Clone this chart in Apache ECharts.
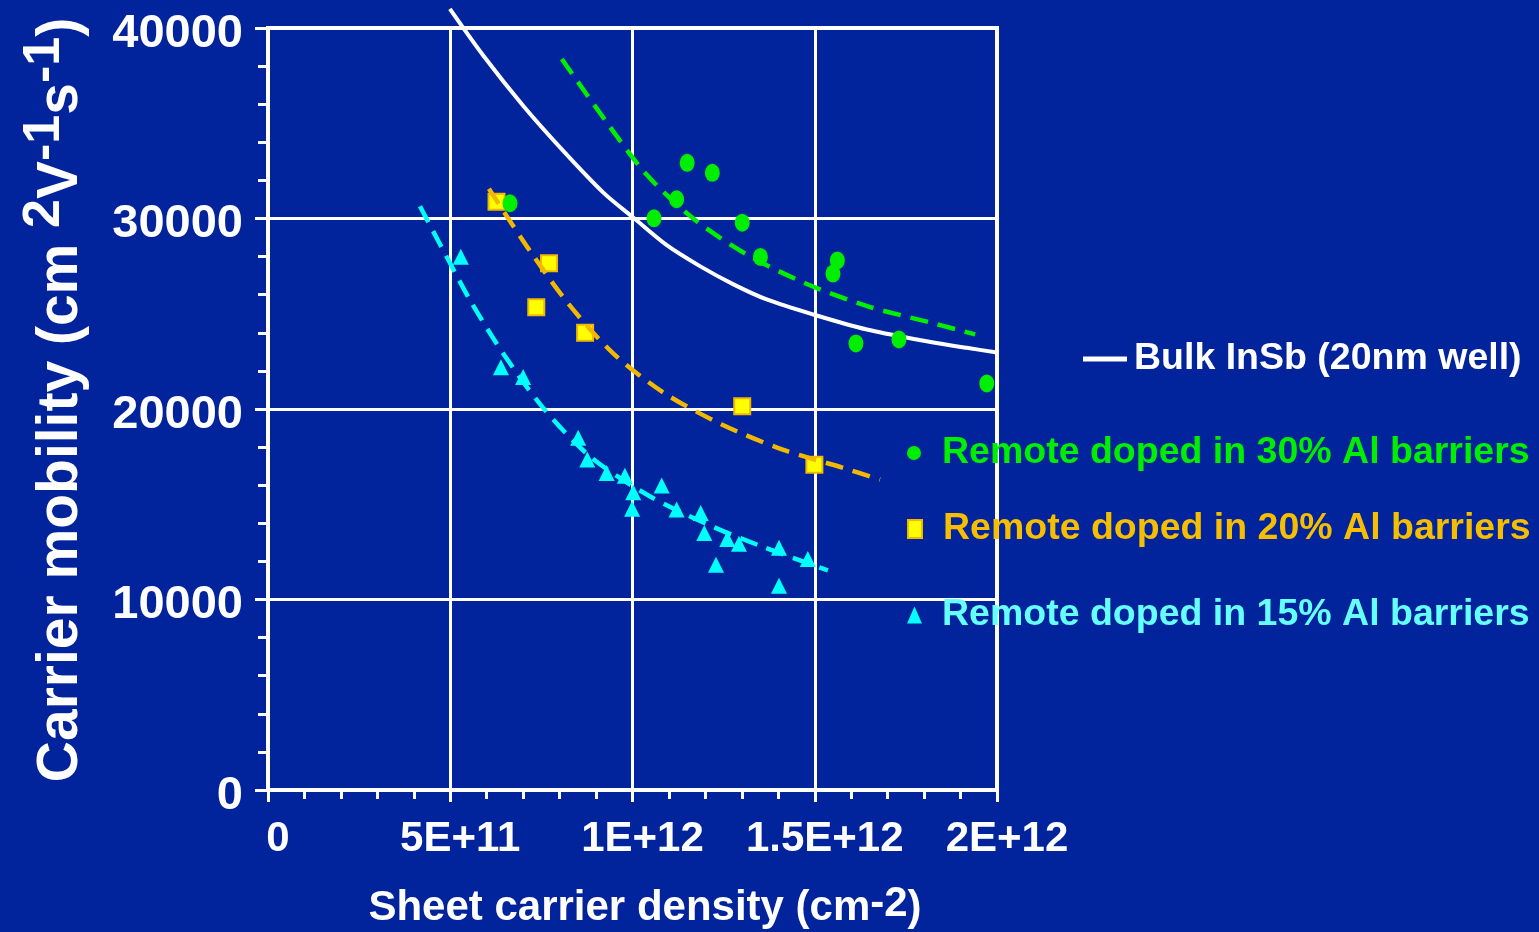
<!DOCTYPE html>
<html>
<head>
<meta charset="utf-8">
<title>Carrier mobility vs sheet carrier density</title>
<script src="https://cdn.jsdelivr.net/npm/echarts@6/dist/echarts.min.js"></script>
<style>
  html, body { margin: 0; padding: 0; background: #01239b; }
  #chart { width: 1539px; height: 932px; }
</style>
</head>
<body>
<div id="chart"></div>
<script>
// ---- axis tick labels ----
const xTickLabels = ['0', '5E+11', '1E+12', '1.5E+12', '2E+12'];
const yTickLabels = ['0', '10000', '20000', '30000', '40000'];

// ---- series names ----
const nameBulk = 'Bulk InSb (20nm well)';
const name30 = 'Remote doped in 30% Al barriers';
const name20 = 'Remote doped in 20% Al barriers';
const name15 = 'Remote doped in 15% Al barriers';

// ---- measured points: [sheet density (cm^-2), mobility (cm^2 V^-1 s^-1)] ----
const al30Points = [
  [6.64e11, 30800], [10.59e11, 30010], [11.50e11, 32920], [12.19e11, 32400],
  [11.21e11, 31010], [13.01e11, 29780], [13.51e11, 27980], [15.62e11, 27800],
  [15.50e11, 27110], [16.13e11, 23440], [17.31e11, 23650], [19.72e11, 21340]
];
const al20Points = [
  [6.27e11, 30880], [7.71e11, 27650], [7.36e11, 25340], [8.70e11, 24000],
  [13.01e11, 20150], [14.99e11, 17080]
];
const al15Points = [
  [5.29e11, 27990], [6.39e11, 22190], [7.00e11, 21680], [8.51e11, 18490],
  [8.76e11, 17350], [9.29e11, 16640], [9.79e11, 16500], [10.02e11, 15630],
  [9.99e11, 14770], [10.80e11, 15990], [11.21e11, 14720], [11.87e11, 14540],
  [11.97e11, 13490], [12.60e11, 13170], [12.92e11, 12930], [12.29e11, 11830],
  [14.02e11, 12720], [14.81e11, 12130], [14.02e11, 10720]
];

// ---- calculated bulk curve and trend lines ----
const bulkCurve = [
  [4.99e11, 41000], [5.91e11, 38540], [7.00e11, 35920], [8.10e11, 33550],
  [9.20e11, 31360], [10.02e11, 30050], [10.94e11, 28600], [11.85e11, 27500],
  [12.77e11, 26540], [13.68e11, 25750], [14.96e11, 24960], [16.43e11, 24170],
  [17.80e11, 23650], [19.17e11, 23210], [20.00e11, 22970]
];
const al30Trend = [
  [8.06e11, 38370], [9.25e11, 35160], [10.36e11, 32360], [11.66e11, 30010],
  [13.13e11, 28120], [14.75e11, 26590], [16.44e11, 25400], [18.19e11, 24530],
  [19.40e11, 23920]
];
const al20Trend = [
  [6.06e11, 31560], [7.19e11, 28290], [8.24e11, 25530], [9.47e11, 22920],
  [10.86e11, 20850], [12.45e11, 19190], [14.12e11, 17870], [15.78e11, 16910],
  [16.79e11, 16290]
];
const al15Trend = [
  [4.17e11, 30640], [4.72e11, 28650], [5.56e11, 25660], [6.50e11, 22780],
  [7.55e11, 20060], [8.83e11, 17520], [10.39e11, 15510], [12.07e11, 13930],
  [13.54e11, 12790], [15.36e11, 11530]
];

// ---- styling ----
const FONT = "'Liberation Sans', Arial, Helvetica, sans-serif";
const BG = '#01239b';
const WHITE = '#ffffff';
const GREEN = '#00ee00';
const YELLOW = '#ffff00';
const ORANGE = '#f2b800';
const CYAN = '#00ffff';
const GREEN_TEXT = '#00ee00';
const ORANGE_TEXT = '#f5be00';
const CYAN_TEXT = '#66ffff';

function legendBlock(name, left, top, opts) {
  return {
    show: true,
    left: left,
    top: top,
    padding: 0,
    orient: 'horizontal',
    selectedMode: false,
    itemWidth: opts.w,
    itemHeight: opts.h,
    symbolKeepAspect: false,
    data: [{ name: name, icon: opts.icon, itemStyle: opts.itemStyle }],
    textStyle: {
      color: opts.color,
      fontFamily: FONT,
      fontWeight: 'bold',
      fontSize: 37.5,
      lineHeight: 40,
      padding: [0, 0, 0, opts.gap]
    }
  };
}

function dashedTrend(name, data, color) {
  return {
    name: name,
    type: 'line',
    data: data,
    smooth: 0.3,
    symbol: 'none',
    silent: true,
    lineStyle: { color: color, width: 4.5, type: [18, 10], opacity: 1 },
    z: 3
  };
}

const chart = echarts.init(document.getElementById('chart'), null, { renderer: 'canvas' });

chart.setOption({
  backgroundColor: BG,
  animation: false,
  textStyle: { fontFamily: FONT },
  grid: {
    left: 268,
    right: 542,
    top: 28,
    bottom: 142,
    show: true,
    borderColor: WHITE,
    borderWidth: 4,
    backgroundColor: 'transparent',
    containLabel: false,
    outerBoundsMode: 'none'
  },
  xAxis: {
    type: 'value',
    min: 0,
    max: 2e12,
    interval: 5e11,
    axisLine: { show: true, onZero: false, lineStyle: { color: WHITE, width: 4 } },
    axisTick: { show: true, length: 12, lineStyle: { color: WHITE, width: 3 } },
    minorTick: { show: true, splitNumber: 5, length: 9, lineStyle: { color: WHITE, width: 3 } },
    splitLine: { show: true, lineStyle: { color: WHITE, width: 3 } },
    minorSplitLine: { show: false },
    axisLabel: {
      color: WHITE,
      fontFamily: FONT,
      fontWeight: 'bold',
      fontSize: 42,
      lineHeight: 42,
      margin: 28,
      padding: [0, 0, 0, 20],
      hideOverlap: false,
      showMinLabel: true,
      showMaxLabel: true,
      formatter: function (v) { return xTickLabels[Math.round(v / 5e11)]; }
    }
  },
  yAxis: {
    type: 'value',
    min: 0,
    max: 40000,
    interval: 10000,
    axisLine: { show: true, onZero: false, lineStyle: { color: WHITE, width: 4 } },
    axisTick: { show: true, length: 13, lineStyle: { color: WHITE, width: 3 } },
    minorTick: { show: true, splitNumber: 5, length: 10, lineStyle: { color: WHITE, width: 3 } },
    splitLine: { show: true, lineStyle: { color: WHITE, width: 3 } },
    minorSplitLine: { show: false },
    axisLabel: {
      color: WHITE,
      fontFamily: FONT,
      fontWeight: 'bold',
      fontSize: 47,
      lineHeight: 12,
      verticalAlign: 'top',
      margin: 25,
      hideOverlap: false,
      showMinLabel: true,
      showMaxLabel: true,
      formatter: function (v) { return yTickLabels[Math.round(v / 10000)]; }
    }
  },
  legend: [
    legendBlock(nameBulk, 1083, 339, {
      w: 44, h: 5, icon: 'rect', gap: 2, color: WHITE,
      itemStyle: { color: WHITE, borderWidth: 0, opacity: 1 }
    }),
    legendBlock(name30, 907, 433, {
      w: 14, h: 17, icon: 'circle', gap: 16, color: GREEN_TEXT,
      itemStyle: { color: GREEN, borderWidth: 0, opacity: 1 }
    }),
    legendBlock(name20, 907, 509, {
      w: 14, h: 18, icon: 'rect', gap: 16, color: ORANGE_TEXT,
      itemStyle: { color: YELLOW, borderColor: ORANGE, borderWidth: 2, opacity: 1 }
    }),
    legendBlock(name15, 907, 595, {
      w: 15, h: 17, icon: 'triangle', gap: 15, color: CYAN_TEXT,
      itemStyle: { color: CYAN, borderWidth: 0, opacity: 1 }
    })
  ],
  graphic: [
    {
      type: 'text',
      x: 61,
      y: 400,
      rotation: Math.PI / 2,
      silent: true,
      style: {
        text: '{m|Carrier mobility (cm }{s|2}{m|V}{s|-1}{m|s}{s|-1}{m|)}',
        align: 'center',
        verticalAlign: 'middle',
        fill: WHITE,
        rich: {
          m: { fontFamily: FONT, fontWeight: 'bold', fontSize: 57, lineHeight: 84, fill: WHITE, color: WHITE },
          s: { fontFamily: FONT, fontWeight: 'bold', fontSize: 52, lineHeight: 44, verticalAlign: 'top', fill: WHITE, color: WHITE }
        }
      }
    },
    {
      type: 'text',
      x: 645,
      y: 908,
      silent: true,
      style: {
        text: '{m|Sheet carrier density (cm}{s|-2}{m|)}',
        align: 'center',
        verticalAlign: 'middle',
        fill: WHITE,
        rich: {
          m: { fontFamily: FONT, fontWeight: 'bold', fontSize: 42, lineHeight: 50, fill: WHITE, color: WHITE },
          s: { fontFamily: FONT, fontWeight: 'bold', fontSize: 42, lineHeight: 40, verticalAlign: 'top', fill: WHITE, color: WHITE }
        }
      }
    }
  ],
  series: [
    {
      name: name20,
      type: 'scatter',
      data: al20Points,
      symbol: 'rect',
      symbolSize: 16,
      itemStyle: { color: YELLOW, borderColor: ORANGE, borderWidth: 2, opacity: 1 },
      z: 2
    },
    dashedTrend('20% Al trend', al20Trend, ORANGE),
    dashedTrend('15% Al trend', al15Trend, CYAN),
    {
      name: name15,
      type: 'scatter',
      data: al15Points,
      symbol: 'triangle',
      symbolSize: [16, 16],
      itemStyle: { color: CYAN, opacity: 1 },
      z: 4
    },
    {
      name: nameBulk,
      type: 'line',
      data: bulkCurve,
      smooth: 0.3,
      symbol: 'none',
      clip: false,
      silent: true,
      itemStyle: { color: WHITE },
      lineStyle: { color: WHITE, width: 4, opacity: 1 },
      z: 4
    },
    dashedTrend('30% Al trend', al30Trend, GREEN),
    {
      name: name30,
      type: 'scatter',
      data: al30Points,
      symbol: 'circle',
      symbolSize: [15, 18],
      itemStyle: { color: GREEN, opacity: 1 },
      z: 5
    }
  ]
});
</script>
</body>
</html>
